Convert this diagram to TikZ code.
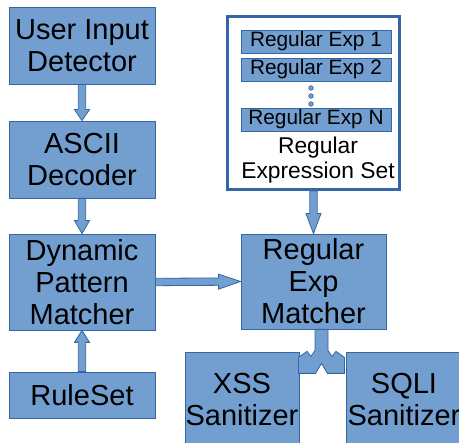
\documentclass[tikz,border=0pt]{standalone}
\usepackage{fontspec}
\setmainfont{Liberation Sans}
\usetikzlibrary{calc}

\definecolor{boxfill}{HTML}{729FCF}
\definecolor{boxline}{HTML}{3465A4}

\tikzset{
  block/.style={draw=boxline, fill=boxfill, line width=0.8pt, align=center,
    inner sep=0pt, font=\fontsize{29}{32}\selectfont},
  expbox/.style={draw=boxline, fill=boxfill, line width=0.8pt, inner sep=0pt,
    minimum width=150pt, minimum height=23pt, font=\fontsize{20.8}{23}\selectfont},
  blockarrow/.style={draw=boxline, fill=boxfill, line width=0.8pt, line join=miter},
}

% fat arrow from one anchor to another, #1 = head length
\newcommand{\fatarrow}[3][11pt]{%
  \draw[blockarrow] let \p1=($(#3)!#1!(#2)$) in
    ($(#2)!3.7pt!90:(#3)$) -- ($(\p1)!3.7pt!90:(#3)$) -- ($(\p1)!7.5pt!90:(#3)$) -- (#3)
    -- ($(\p1)!7.5pt!-90:(#3)$) -- ($(\p1)!3.7pt!-90:(#3)$) -- ($(#2)!3.7pt!-90:(#3)$) -- cycle;}

\begin{document}
\begin{tikzpicture}[x=1pt,y=-1pt]
\clip (0,0) rectangle (459,443);

% left column
\node[block, minimum width=146pt, minimum height=77pt] (user) at (82,45.5) {User Input\\Detector};
\node[block, minimum width=146pt, minimum height=77pt] (ascii) at (82,159.5) {ASCII\\Decoder};
\node[block, minimum width=146pt, minimum height=96pt] (dpm) at (82,282) {Dynamic\\Pattern\\Matcher};
\node[block, minimum width=146pt, minimum height=46pt] (rules) at (82,395) {RuleSet};

% regular expression set
\node[draw=boxline, fill=white, line width=3pt, minimum width=172pt, minimum height=173pt] (regset) at (313.5,103) {};
\node[expbox] (exp1) at (316,41.5) {Regular Exp 1};
\node[expbox] (exp2) at (316,69.5) {Regular Exp 2};
\node[expbox] (expn) at (316,119.5) {Regular Exp N};
\foreach \y in {88,96,104}
    \filldraw[fill=boxfill, draw=boxline, line width=0.6pt] (311,\y) circle (2.3pt);
\node[align=center, font=\fontsize{22.8}{25}\selectfont] (setlabel) at (318,160.5) {Regular\\Expression Set};

% right column
\node[block, minimum width=145pt, minimum height=95pt] (rem) at (313.5,281.5) {Regular\\Exp\\Matcher};
\node[block, minimum width=114pt, minimum height=96pt] (xss) at (242,400) {XSS\\Sanitizer};
\node[block, minimum width=116pt, minimum height=96pt] (sqli) at (404,400) {SQLI\\Sanitizer};

% arrows
\fatarrow[11pt]{user.south}{ascii.north}
\fatarrow[13pt]{ascii.south}{dpm.north}
\fatarrow[12pt]{rules.north}{dpm.south}
\fatarrow[22pt]{dpm.east}{rem.west}
\fatarrow[20pt]{regset.south}{rem.north}

% split towards both sanitizers
\draw[blockarrow] ([xshift=8pt]rem.south) ++(-6.5,0) -- ++(0,21) -- ++(-4,6) -- ++(-4,-5)
    -- ++(-8.5,6) -- ++(0,16) -- ++(17,0) -- ++(6,-10) -- ++(6,10) -- ++(17,0)
    -- ++(0,-16) -- ++(-8.5,-6) -- ++(-4,5) -- ++(-4,-6) -- ++(0,-21) -- cycle;
\end{tikzpicture}
\end{document}
